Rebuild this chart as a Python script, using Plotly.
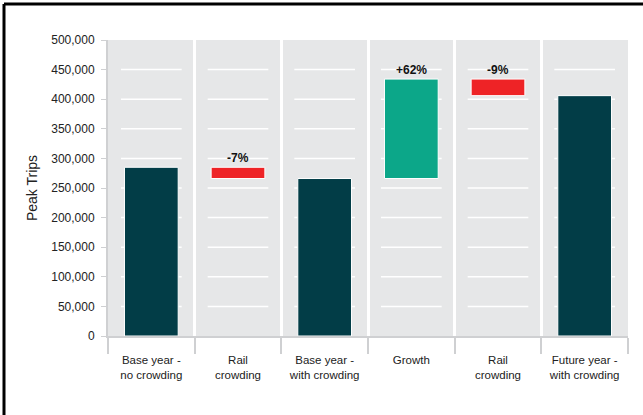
import plotly.graph_objects as go

categories = ["Base year -<br>no crowding", "Rail<br>crowding", "Base year -<br>with crowding",
              "Growth", "Rail<br>crowding", "Future year -<br>with crowding"]
measures = ["absolute", "relative", "total", "relative", "relative", "total"]
values = [285000, -19000, 0, 168000, -28000, 0]
pct_labels = ["", "-7%", "", "+62%", "-9%", ""]
y_ticks = [0, 50000, 100000, 150000, 200000, 250000, 300000, 350000, 400000, 450000, 500000]

DARK = "#023d47"
GREEN = "#0ca789"
RED = "#ee2326"
BAND = "#e6e7e8"
AXIS = "#cfd0d2"
FONT = "Liberation Sans, Arial, sans-serif"

# make duplicate labels unique for the category axis (zero-width suffix)
x_keys = [c + "\u200b" * i for i, c in enumerate(categories)]

fig = go.Figure()
fig.add_trace(go.Waterfall(
    x=x_keys, measure=measures, y=values,
    increasing=dict(marker=dict(color=GREEN, line=dict(color="white", width=1))),
    decreasing=dict(marker=dict(color=RED, line=dict(color="white", width=1))),
    totals=dict(marker=dict(color=DARK, line=dict(color="white", width=1))),
    connector=dict(visible=False),
    width=0.62, showlegend=False, hoverinfo="y",
))

running = 0
shapes = []
annotations = []
for i, (m, v, lab) in enumerate(zip(measures, values, pct_labels)):
    prev = running
    if m == "absolute":
        running = v
    elif m == "relative":
        running = running + v
    top = max(prev, running) if m == "relative" else running
    if lab:
        annotations.append(dict(x=x_keys[i], y=top, text="<b>" + lab + "</b>", showarrow=False,
                                yanchor="bottom", yshift=0, font=dict(size=12, color="#111", family=FONT)))
    for t in y_ticks[1:-1]:
        shapes.append(dict(type="line", xref="x", yref="y", x0=i - 0.35, x1=i + 0.35, y0=t, y1=t,
                           line=dict(color="white", width=1.5), layer="below"))

# framing lines (top / left) of the original panel
shapes.append(dict(type="line", xref="paper", yref="paper", x0=-0.2, x1=1.03, y0=1.1216, y1=1.1216,
                   line=dict(color="black", width=3)))
shapes.append(dict(type="line", xref="paper", yref="paper", x0=-0.2, x1=-0.2, y0=1.1216, y1=-0.3,
                   line=dict(color="black", width=3)))

fig.update_layout(
    width=643, height=415,
    margin=dict(l=108, r=15, t=40, b=79),
    paper_bgcolor="white", plot_bgcolor=BAND,
    font=dict(family=FONT, size=12, color="#222"),
    shapes=shapes, annotations=annotations,
    xaxis=dict(type="category", tickson="boundaries", showgrid=True, gridcolor="white", gridwidth=3,
               ticks="outside", ticklen=16, tickcolor=AXIS, tickwidth=2, ticklabelstandoff=12,
               showline=True, linecolor=AXIS, linewidth=2, tickfont=dict(size=11.5, color="#222"),
               fixedrange=True),
    yaxis=dict(range=[0, 500000], tickvals=y_ticks, tickformat=",", showgrid=False, zeroline=False,
               ticks="outside", ticklen=5, tickcolor=AXIS, showline=True, linecolor=AXIS, linewidth=2,
               ticklabelstandoff=4,
               title=dict(text="Peak Trips", font=dict(size=14, color="#222"), standoff=10),
               tickfont=dict(size=12, color="#222")),
)

fig.write_html("out.html", config={"displayModeBar": False},
               post_script="document.body.style.margin='0';")
